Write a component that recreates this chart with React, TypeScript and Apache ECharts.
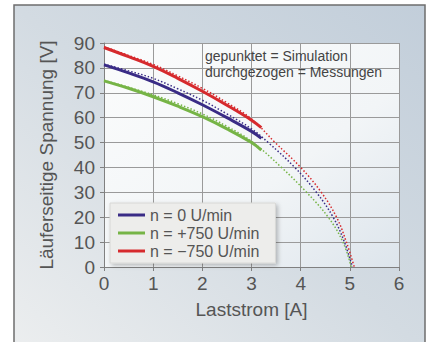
import React, { useEffect, useRef } from "react";
import * as echarts from "echarts";

// Measurements (solid lines)
const measX = [0, 0.5, 1, 1.5, 2, 2.5, 3, 3.2];
const meas0 = [81.2, 78, 74.4, 70, 65.2, 60, 54.5, 51.7];
const measPlus = [74.8, 71.8, 68.4, 64.6, 60.4, 55.5, 50, 47];
const measMinus = [88.2, 84.5, 80.6, 75.8, 70.6, 65, 59, 56];

// Simulation (dotted lines)
const sim0X = [0, 0.5, 1, 1.5, 2, 2.5, 3, 3.34, 3.88, 4.32, 4.66, 4.89, 5.05];
const sim0Y = [81.5, 78.8, 75.8, 71.6, 67, 61.5, 55.5, 50, 40, 30, 20, 10, 0];
const simPlusX = [0, 0.5, 1, 1.5, 2, 2.5, 3, 3.61, 4.12, 4.56, 4.86, 5.03];
const simPlusY = [75, 72.2, 69.2, 65.6, 61.5, 56.5, 50.5, 40, 30, 20, 10, 0];
const simMinusX = [0, 0.5, 1, 1.5, 2, 2.5, 3, 3.48, 4.0, 4.42, 4.73, 4.93, 5.09];
const simMinusY = [88.5, 85, 81.4, 76.8, 71.8, 66, 59.5, 50, 40, 30, 20, 10, 0];

const names = ["n = 0 U/min", "n = +750 U/min", "n = \u2212750 U/min"];
const colors = ["#3a2c86", "#76b446", "#d62a2d"];
const annotation = ["gepunktet = Simulation", "durchgezogen = Messungen"];

const pairs = (xs: number[], ys: number[]) => xs.map((x, i) => [x, ys[i]]);

const FONT = "Liberation Sans";
const TXT = "#555";

export default function App() {
  const ref = useRef<HTMLDivElement>(null);
  useEffect(() => {
    if (!ref.current) return;
    const chart = echarts.init(ref.current, undefined, { renderer: "svg" });
    const measYs = [meas0, measPlus, measMinus];
    const simSets = [
      [sim0X, sim0Y],
      [simPlusX, simPlusY],
      [simMinusX, simMinusY],
    ];
    const series: any[] = [];
    simSets.forEach((s, i) => {
      series.push({
        name: "sim" + i,
        type: "line",
        data: pairs(s[0], s[1]),
        smooth: 0.4,
        showSymbol: false,
        symbol: "none",
        lineStyle: { color: colors[i], width: 1.5, type: [1.5, 2] },
        itemStyle: { color: colors[i] },
        z: 2,
      });
    });
    measYs.forEach((ys, i) => {
      series.push({
        name: names[i],
        type: "line",
        data: pairs(measX, ys),
        smooth: 0.4,
        showSymbol: false,
        symbol: "none",
        lineStyle: { color: colors[i], width: 3 },
        itemStyle: { color: colors[i] },
        z: 3,
      });
    });
    chart.setOption({
      animation: false,
      graphic: [
        {
          type: "rect",
          z: -100,
          silent: true,
          shape: { x: 14, y: 5, width: 411, height: 345 },
          style: {
            fill: {
              type: "linear",
              x: 1,
              y: 0,
              x2: 0,
              y2: 1,
              colorStops: [
                { offset: 0, color: "#c2ceda" },
                { offset: 0.5, color: "#d3dbe2" },
                { offset: 1, color: "#eceeef" },
              ],
            },
            stroke: "#6e6e6e",
            lineWidth: 1.5,
          },
        },
        {
          type: "text",
          left: 205,
          top: 49,
          z: 10,
          style: { text: annotation[0], font: `14px "${FONT}"`, fill: "#444" },
        },
        {
          type: "text",
          left: 205,
          top: 65,
          z: 10,
          style: { text: annotation[1], font: `14px "${FONT}"`, fill: "#444" },
        },
      ],
      grid: {
        left: 104,
        top: 43,
        width: 295,
        height: 224,
        show: true,
        borderWidth: 0,
        backgroundColor: {
          type: "linear",
          x: 0,
          y: 0,
          x2: 1,
          y2: 1,
          colorStops: [
            { offset: 0, color: "#fbfcfc" },
            { offset: 0.6, color: "#f2f5f7" },
            { offset: 1, color: "#dde5ec" },
          ],
        },
      },
      legend: {
        data: names.map((n) => ({ name: n, icon: "rect" })),
        orient: "vertical",
        left: 110,
        top: 203,
        itemWidth: 27,
        itemHeight: 3,
        itemGap: 0,
        padding: [3, 16, 3, 8],
        backgroundColor: "#ededeb",
        borderColor: "#d8d8d6",
        borderWidth: 1,
        shadowBlur: 4,
        shadowColor: "rgba(0,0,0,0.25)",
        shadowOffsetX: 2,
        shadowOffsetY: 2,
        textStyle: { fontFamily: FONT, fontSize: 16, color: TXT, lineHeight: 18 },
      },
      xAxis: {
        type: "value",
        min: 0,
        max: 6,
        interval: 1,
        name: "Laststrom [A]",
        nameLocation: "middle",
        nameGap: 33,
        nameTextStyle: { fontFamily: FONT, fontSize: 19, color: TXT },
        axisLine: { show: true, lineStyle: { color: "#808080", width: 1 } },
        axisTick: { show: true, length: 4, lineStyle: { color: "#808080" } },
        axisLabel: { fontFamily: FONT, fontSize: 19, color: TXT, margin: 7 },
        splitLine: { show: true, lineStyle: { color: "#9a9a9a", width: 1 } },
      },
      yAxis: {
        type: "value",
        min: 0,
        max: 90,
        interval: 10,
        name: "Läuferseitige Spannung [V]",
        nameLocation: "middle",
        nameGap: 48,
        nameTextStyle: { fontFamily: FONT, fontSize: 19, color: TXT },
        axisLine: { show: true, lineStyle: { color: "#808080", width: 1 } },
        axisTick: { show: true, length: 4, lineStyle: { color: "#808080" } },
        axisLabel: { fontFamily: FONT, fontSize: 19, color: TXT, margin: 9 },
        splitLine: { show: true, lineStyle: { color: "#9a9a9a", width: 1 } },
      },
      series,
    });
    return () => chart.dispose();
  }, []);
  return (
    <div
      ref={ref}
      style={{ position: "fixed", left: 0, top: 0, width: 432, height: 342, background: "#fff" }}
    />
  );
}
